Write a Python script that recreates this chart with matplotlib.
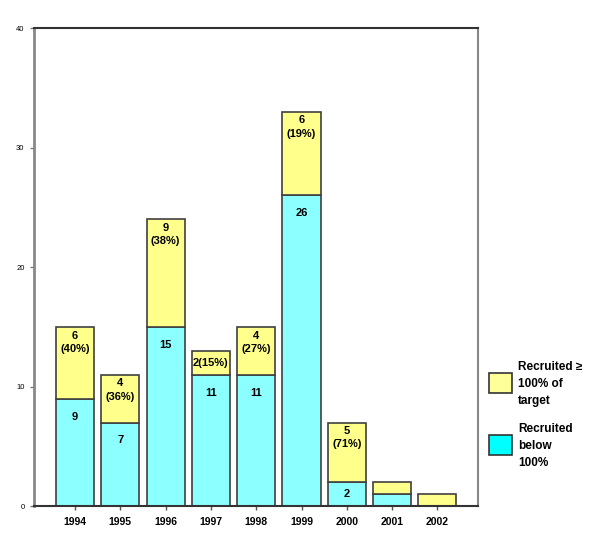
import matplotlib.pyplot as plt
from matplotlib.patches import Rectangle

plt.rcParams['font.family'] = ['Liberation Sans', 'DejaVu Sans']

years = ['1994', '1995', '1996', '1997', '1998', '1999', '2000', '2001', '2002']
below = [9, 7, 15, 11, 11, 26, 2, 1, 0]
above = [6, 4, 9, 2, 4, 7, 5, 1, 1]
below_labels = ['9', '7', '15', '11', '11', '26', '2', '', '']
above_labels = ['6\n(40%)', '4\n(36%)', '9\n(38%)', '2(15%)', '4\n(27%)',
                '6\n(19%)', '5\n(71%)', '', '']

cyan = '#8cffff'
yellow = '#ffff8c'
edge = '#404040'

fig = plt.figure(figsize=(6, 5.42), dpi=100)
ax = fig.add_axes([0.057, 0.066, 0.74, 0.882])

x = list(range(len(years)))
ax.bar(x, below, 0.84, color=cyan, edgecolor=edge, linewidth=1.2)
ax.bar(x, above, 0.84, bottom=below, color=yellow, edgecolor=edge, linewidth=1.2)

for i in x:
    if below_labels[i]:
        y = below[i] - min(1.5, below[i] / 2)
        ax.text(i, y, below_labels[i], ha='center', va='center',
                fontsize=8, fontweight='bold')
    if above_labels[i]:
        top = below[i] + above[i]
        if '\n' in above_labels[i]:
            ax.text(i, top - 0.3, above_labels[i], ha='center', va='top',
                    fontsize=8, fontweight='bold', linespacing=1.4)
        else:
            ax.text(i, below[i] + above[i] / 2, above_labels[i], ha='center',
                    va='center', fontsize=8, fontweight='bold')

ax.set_xlim(-0.9, 8.9)
ax.set_ylim(0, 40)
ax.set_yticks([0, 10, 20, 30, 40])
ax.set_xticks(x)
ax.set_xticklabels(years, fontsize=7.5, fontweight='bold')
ax.tick_params(axis='y', labelsize=5.5, length=3, width=1, color='#777777', pad=4)
ax.tick_params(axis='x', length=3, width=1, color='#555555', pad=5)

ax.spines['left'].set_color('#888888')
ax.spines['left'].set_linewidth(2)
ax.spines['right'].set_color('#888888')
ax.spines['right'].set_linewidth(1.5)
ax.spines['top'].set_color('#333333')
ax.spines['top'].set_linewidth(1.5)
ax.spines['bottom'].set_color('#333333')
ax.spines['bottom'].set_linewidth(1.5)

# legend drawn by hand to the right of the plot
W, H = 600, 542
for (y0, col, txt) in [(373, '#ffff99', 'Recruited \u2265\n100% of\ntarget'),
                       (435, '#00ffff', 'Recruited\nbelow\n100%')]:
    fig.patches.append(Rectangle((489 / W, 1 - (y0 + 20) / H), 23 / W, 20 / H,
                                 transform=fig.transFigure, facecolor=col,
                                 edgecolor='#333333', linewidth=1.2))
    fig.text(518 / W, 1 - (y0 - 12) / H, txt, fontsize=8.5, fontweight='bold',
             va='top', ha='left', linespacing=1.55)

fig.savefig('out.png', dpi=100)
